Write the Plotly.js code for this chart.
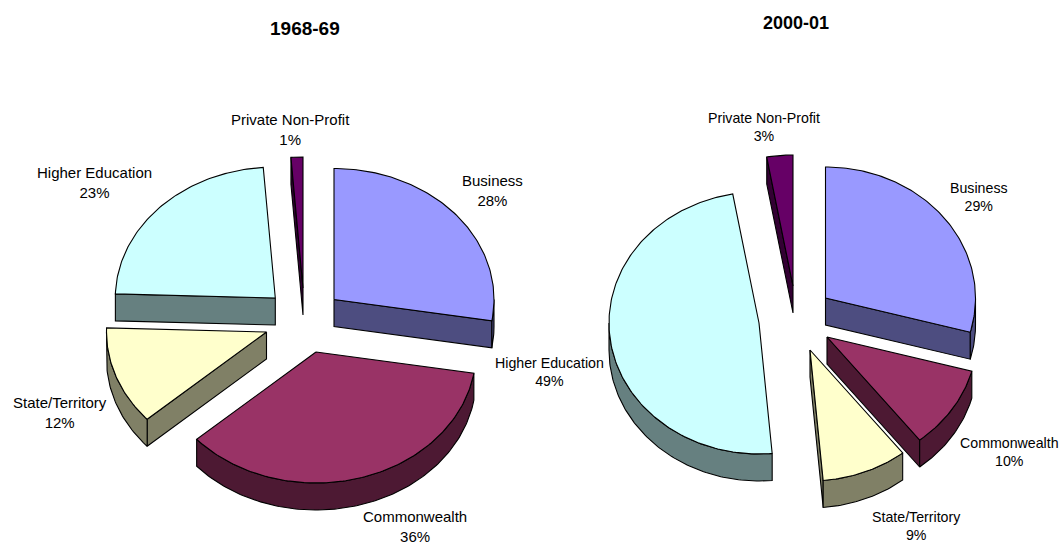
<!DOCTYPE html>
<html>
<head>
<meta charset="utf-8">
<script src="https://cdn.plot.ly/plotly-3.0.1.min.js"></script>
<style>html,body{margin:0;padding:0;background:#fff}#chart{width:1060px;height:544px}</style>
</head>
<body>
<div id="chart"></div>
<script>
// Data (percent shares; clockwise from 12 o'clock)
const categories = ['Business', 'Commonwealth', 'State/Territory', 'Higher Education', 'Private Non-Profit'];
const values1968 = [27.6, 35.8, 12.1, 23.3, 1.2];
const values2000 = [29.2, 10.2, 9.2, 48.6, 2.8];
const titles = ['1968-69', '2000-01'];

// Styles
const topColors  = ['#9999FF', '#993366', '#FFFFCC', '#CCFFFF', '#660066'];
const sideColors = ['#4D4D80', '#4D1933', '#808066', '#668080', '#330033'];

// Exploded layout of each pie, in page pixels
const apexX1968 = [334, 316, 266.5, 275.3, 303];
const apexY1968 = [299.5, 352, 332, 298, 288];
const apexX2000 = [825.5, 827, 810, 759, 793];
const apexY2000 = [298, 337, 350, 323, 286];
const pies = [
  {values: values1968, ax: apexX1968, ay: apexY1968, rx: 160, ry: 131, depth: 27,
   order: [4, 3, 0, 2, 1]},
  {values: values2000, ax: apexX2000, ay: apexY2000, rx: 150, ry: 131, depth: 27,
   order: [4, 3, 0, 1, 2]}
];
const labelPos = [
  [[492, 190.5], [415, 526.5], [59.5, 412.5], [94.6, 182], [290.5, 129.5]],
  [[978.6, 197], [1009, 452], [916, 525.7], [549, 372], [764, 127]]
];
const labelSizes = [15, 14.2];
const titlePos = [[304.5, 28, 19], [796, 23, 18]];

const rad = d => d * Math.PI / 180;
const traces = [];

function poly(xs, ys, color, name) {
  traces.push({
    type: 'scatter', mode: 'lines', x: xs.concat(xs[0]), y: ys.concat(ys[0]),
    fill: 'toself', fillcolor: color, line: {color: '#000', width: 1.1},
    name: name, hoverinfo: 'name', showlegend: false
  });
}

function arc(p, i, a, b, dy) {
  const xs = [], ys = [], n = Math.max(2, Math.ceil(Math.abs(b - a)));
  for (let k = 0; k <= n; k++) {
    const t = rad(a + (b - a) * k / n);
    xs.push(p.ax[i] + p.rx * Math.sin(t));
    ys.push(p.ay[i] - p.ry * Math.cos(t) + dy);
  }
  return {xs, ys};
}

function drawSlice(p, i, a0, a1) {
  const name = categories[i] + ' ' + Math.round(p.values[i]) + '%';
  const walls = [];
  const radial = a => {
    const e = arc(p, i, a, a, 0);
    const X = e.xs[0], Y = e.ys[0];
    return {
      xs: [p.ax[i], X, X, p.ax[i]],
      ys: [p.ay[i], Y, Y + p.depth, p.ay[i] + p.depth]
    };
  };
  if (Math.sin(rad(a0)) < -1e-6) walls.push(radial(a0));
  if (Math.sin(rad(a1)) > 1e-6) walls.push(radial(a1));
  const lo = Math.max(a0, 90), hi = Math.min(a1, 270);
  if (hi > lo) {
    const up = arc(p, i, lo, hi, 0), dn = arc(p, i, hi, lo, p.depth);
    walls.push({xs: up.xs.concat(dn.xs), ys: up.ys.concat(dn.ys)});
  }
  walls.forEach(w => poly(w.xs, w.ys, sideColors[i], name));
  const top = arc(p, i, a0, a1, 0);
  poly([p.ax[i]].concat(top.xs), [p.ay[i]].concat(top.ys), topColors[i], name);
}

const annotations = [];
const font = 'Liberation Sans, Arial, sans-serif';
pies.forEach((p, pi) => {
  const starts = [];
  let cum = 0;
  const total = p.values.reduce((s, v) => s + v, 0);
  p.values.forEach(v => { starts.push(cum); cum += v * 360 / total; });
  starts.push(360);
  p.order.forEach(i => drawSlice(p, i, starts[i], starts[i + 1]));
  categories.forEach((c, i) => {
    annotations.push({
      x: labelPos[pi][i][0], y: labelPos[pi][i][1], xref: 'x', yref: 'y',
      text: c + '<br>' + Math.round(p.values[i]) + '%', showarrow: false,
      xanchor: 'center', yanchor: 'middle', align: 'center',
      font: {family: font, size: labelSizes[pi], color: '#000'}
    });
  });
  annotations.push({
    x: titlePos[pi][0], y: titlePos[pi][1], xref: 'x', yref: 'y',
    text: '<b>' + titles[pi] + '</b>', showarrow: false,
    xanchor: 'center', yanchor: 'middle',
    font: {family: font, size: titlePos[pi][2], color: '#000'}
  });
});

const hidden = {visible: false, fixedrange: true};
Plotly.newPlot('chart', traces, {
  width: 1060, height: 544,
  margin: {l: 0, r: 0, t: 0, b: 0},
  paper_bgcolor: '#fff', plot_bgcolor: '#fff',
  showlegend: false,
  xaxis: Object.assign({range: [0, 1060]}, hidden),
  yaxis: Object.assign({range: [544, 0]}, hidden),
  annotations: annotations
}, {displayModeBar: false});
</script>
</body>
</html>
